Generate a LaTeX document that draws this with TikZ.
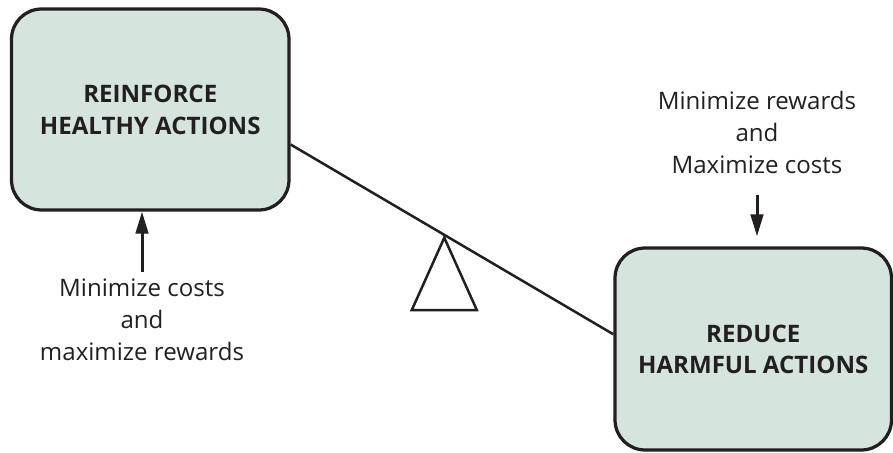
\documentclass[tikz,border=0pt]{standalone}
\usepackage{fontspec}
\setmainfont{Open Sans}
\usetikzlibrary{positioning}
\usetikzlibrary{arrows.meta}
\definecolor{boxfill}{RGB}{214,228,222}
\definecolor{ink}{RGB}{35,31,32}

\begin{document}
\begin{tikzpicture}[
                x=0.02cm, y=-0.02cm,
                >={Triangle[length=0.44cm, width=0.25cm]},
                % Define styles for nodes
                goal box/.style={rectangle, rounded corners=0.6cm, draw=ink, line width=0.065cm, fill=boxfill, text=ink, align=center, minimum width=5.55cm, minimum height=4.02cm, font={\fontsize{13.7}{18.2}\selectfont\bfseries}},
                hint text/.style={align=center, inner sep=0pt, text=ink, font={\fontsize{13.7}{18.2}\selectfont}},
                beam/.style={draw=ink, line width=0.05cm, line join=miter},
                push/.style={->, draw=ink, line width=0.06cm}
            ]
    \useasboundingbox (0,0) rectangle (893,453);

    % Define nodes
    \node[goal box] (reinforce) at (150.25,109.5) {REINFORCE\\HEALTHY ACTIONS};
    \node[goal box, minimum width=5.53cm, minimum height=4.04cm, font={\fontsize{13.7}{17.6}\selectfont\bfseries}] (reduce) at (753.25,349) {REDUCE\\HARMFUL ACTIONS};

    \node[hint text] (costs) at (142,319.5) {Minimize costs\\and\\maximize rewards};
    \node[hint text] (rewards) at (757,132.5) {Minimize rewards\\and\\Maximize costs};

    \coordinate (pivot) at (444.3,237.7);

    % Draw the see-saw
    \draw[beam] (reinforce.-14.9) -- (reduce.174.9);
    \draw[beam] (pivot) -- ++(-32.5,72.3) -- ++(65,0) -- cycle;

    % Draw arrows
    \draw[push, shorten <=0.12cm] (costs.north) -- (costs.north |- reinforce.south);
    \draw[push, shorten <=0.42cm, shorten >=0.2cm] (rewards.south) -- (rewards.south |- reduce.north);
\end{tikzpicture}
\end{document}
